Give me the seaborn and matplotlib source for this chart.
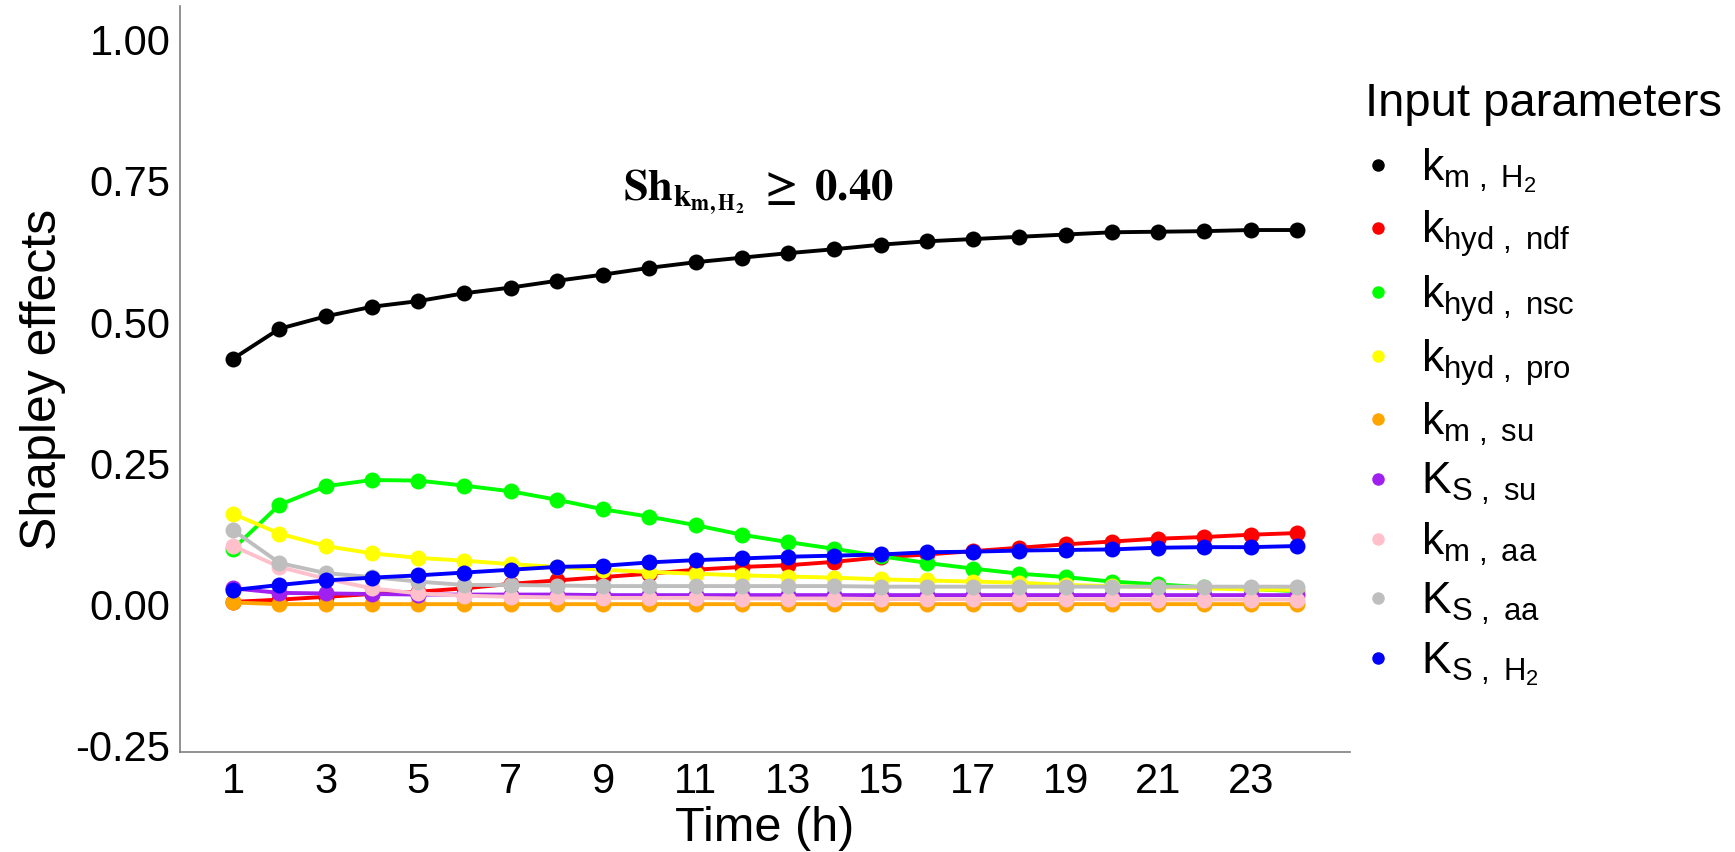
import numpy as np
import pandas as pd
import seaborn as sns
import matplotlib
matplotlib.use("Agg")
import matplotlib.pyplot as plt
from matplotlib.lines import Line2D

sns.set_theme(style="white")
plt.rcParams['font.family'] = ['Liberation Sans', 'DejaVu Sans']
plt.rcParams['mathtext.fontset'] = 'custom'
plt.rcParams['mathtext.rm'] = 'Liberation Sans'
plt.rcParams['mathtext.it'] = 'Liberation Sans'
plt.rcParams['mathtext.bf'] = 'Liberation Sans:bold'
plt.rcParams['axes.unicode_minus'] = False
plt.rcParams['text.color'] = 'black'
plt.rcParams['axes.labelcolor'] = 'black'

time_h = list(range(1, 25))

k_m_H2 = [0.435, 0.488, 0.510, 0.527, 0.537, 0.551, 0.561, 0.573, 0.584, 0.596, 0.606, 0.614,
          0.622, 0.629, 0.637, 0.643, 0.647, 0.651, 0.655, 0.659, 0.660, 0.661, 0.663, 0.663]
k_hyd_ndf = [0.004, 0.008, 0.013, 0.018, 0.022, 0.028, 0.036, 0.042, 0.048, 0.054, 0.061, 0.066,
             0.069, 0.075, 0.083, 0.088, 0.094, 0.100, 0.106, 0.111, 0.116, 0.119, 0.123, 0.126]
k_hyd_nsc = [0.098, 0.176, 0.209, 0.220, 0.219, 0.210, 0.200, 0.185, 0.168, 0.155, 0.140, 0.123,
             0.110, 0.098, 0.085, 0.073, 0.063, 0.054, 0.048, 0.040, 0.035, 0.030, 0.027, 0.023]
k_hyd_pro = [0.160, 0.125, 0.103, 0.090, 0.082, 0.077, 0.071, 0.066, 0.061, 0.057, 0.054, 0.051,
             0.049, 0.047, 0.044, 0.042, 0.040, 0.038, 0.034, 0.032, 0.030, 0.028, 0.026, 0.025]
k_m_su = [0.003, 0.000, 0.000, 0.000, 0.000, 0.000, 0.000, 0.000, 0.000, 0.000, 0.000, 0.000,
          0.000, 0.000, 0.000, 0.000, 0.000, 0.000, 0.000, 0.000, 0.000, 0.000, 0.000, 0.000]
K_S_su = [0.028, 0.020, 0.019, 0.018, 0.017, 0.017, 0.017, 0.017, 0.016, 0.016, 0.016, 0.016,
          0.016, 0.016, 0.016, 0.016, 0.016, 0.016, 0.016, 0.016, 0.016, 0.016, 0.016, 0.016]
k_m_aa = [0.103, 0.066, 0.045, 0.028, 0.019, 0.015, 0.013, 0.012, 0.011, 0.011, 0.011, 0.010,
          0.010, 0.010, 0.009, 0.009, 0.009, 0.009, 0.009, 0.009, 0.008, 0.008, 0.008, 0.008]
K_S_aa = [0.131, 0.073, 0.055, 0.048, 0.040, 0.034, 0.034, 0.033, 0.032, 0.032, 0.032, 0.032,
          0.032, 0.032, 0.031, 0.031, 0.031, 0.031, 0.031, 0.031, 0.031, 0.031, 0.031, 0.031]
K_S_H2 = [0.025, 0.034, 0.042, 0.047, 0.051, 0.056, 0.061, 0.066, 0.068, 0.074, 0.078, 0.081,
          0.084, 0.086, 0.088, 0.092, 0.093, 0.095, 0.096, 0.097, 0.100, 0.101, 0.101, 0.103]

param_names = ["k_m_H2", "k_hyd_ndf", "k_hyd_nsc", "k_hyd_pro", "k_m_su",
               "K_S_su", "k_m_aa", "K_S_aa", "K_S_H2"]
param_labels = [r"$\mathregular{k_{m\ ,\ H_2}}$",
                r"$\mathregular{k_{hyd\ ,\ ndf}}$",
                r"$\mathregular{k_{hyd\ ,\ nsc}}$",
                r"$\mathregular{k_{hyd\ ,\ pro}}$",
                r"$\mathregular{k_{m\ ,\ su}}$",
                r"$\mathregular{K_{S\ ,\ su}}$",
                r"$\mathregular{k_{m\ ,\ aa}}$",
                r"$\mathregular{K_{S\ ,\ aa}}$",
                r"$\mathregular{K_{S\ ,\ H_2}}$"]
param_colors = ["#000000", "#FF0000", "#00FF00", "#FFFF00", "#FFA500",
                "#A020F0", "#FFC0CB", "#BEBEBE", "#0000FF"]
series = [k_m_H2, k_hyd_ndf, k_hyd_nsc, k_hyd_pro, k_m_su, K_S_su, k_m_aa, K_S_aa, K_S_H2]

x_ticks = list(range(1, 24, 2))
y_ticks = [-0.25, 0.0, 0.25, 0.5, 0.75, 1.0]
y_tick_labels = ["-0.25", "0.00", "0.25", "0.50", "0.75", "1.00"]

df = pd.concat([pd.DataFrame({"Time": time_h, "value": s, "param": n})
                for n, s in zip(param_names, series)], ignore_index=True)

fig = plt.figure(figsize=(17.35, 8.52), dpi=100)
ax = fig.add_axes([180/1735, 1 - 752/852, (1350-180)/1735, (752-6)/852])

sns.lineplot(data=df, x="Time", y="value", hue="param", hue_order=param_names,
             palette=dict(zip(param_names, param_colors)), marker="o", markersize=11.5,
             markeredgewidth=0, linewidth=2.8, legend=False, ax=ax, sort=False)

ax.set_xlim(-0.15, 25.15)
ax.set_ylim(-0.262, 1.06)
ax.set_xticks(x_ticks)
ax.set_xticklabels([str(t) for t in x_ticks])
ax.set_yticks(y_ticks)
ax.set_yticklabels(y_tick_labels)
ax.tick_params(axis="both", labelsize=30, length=4, width=0.8, color="#7f7f7f",
               pad=3, labelcolor="black", direction="out")
ax.set_xlabel("Time (h)", fontsize=35, labelpad=3)
ax.set_ylabel("Shapley effects", fontsize=36, labelpad=7)
for s in ["top", "right"]:
    ax.spines[s].set_visible(False)
for s in ["left", "bottom"]:
    ax.spines[s].set_color("#7f7f7f")
    ax.spines[s].set_linewidth(1.2)

ax.text(12.35, 0.73, r"$\mathbf{Sh_{k_{m,H_2}}\ \geq\ 0.40}$", fontsize=32,
        math_fontfamily="stix", ha="center", va="center", color="black")

handles = [Line2D([0], [0], color=c, marker="o", markersize=9, linewidth=0,
                  markeredgewidth=0) for c in param_colors]
leg = fig.legend(handles, param_labels, loc="upper left",
                 bbox_to_anchor=(1365/1735, 1 - 82/852), frameon=False,
                 title="Input parameters", title_fontsize=34, fontsize=32,
                 handlelength=0.6, handletextpad=0.65, labelspacing=0.3,
                 borderpad=0, borderaxespad=0)
leg._legend_box.align = "left"
leg._legend_box.sep = 15
for t in leg.get_texts():
    t.set_color("black")
leg.get_title().set_color("black")

fig.savefig("out.png", dpi=100, facecolor="white")
